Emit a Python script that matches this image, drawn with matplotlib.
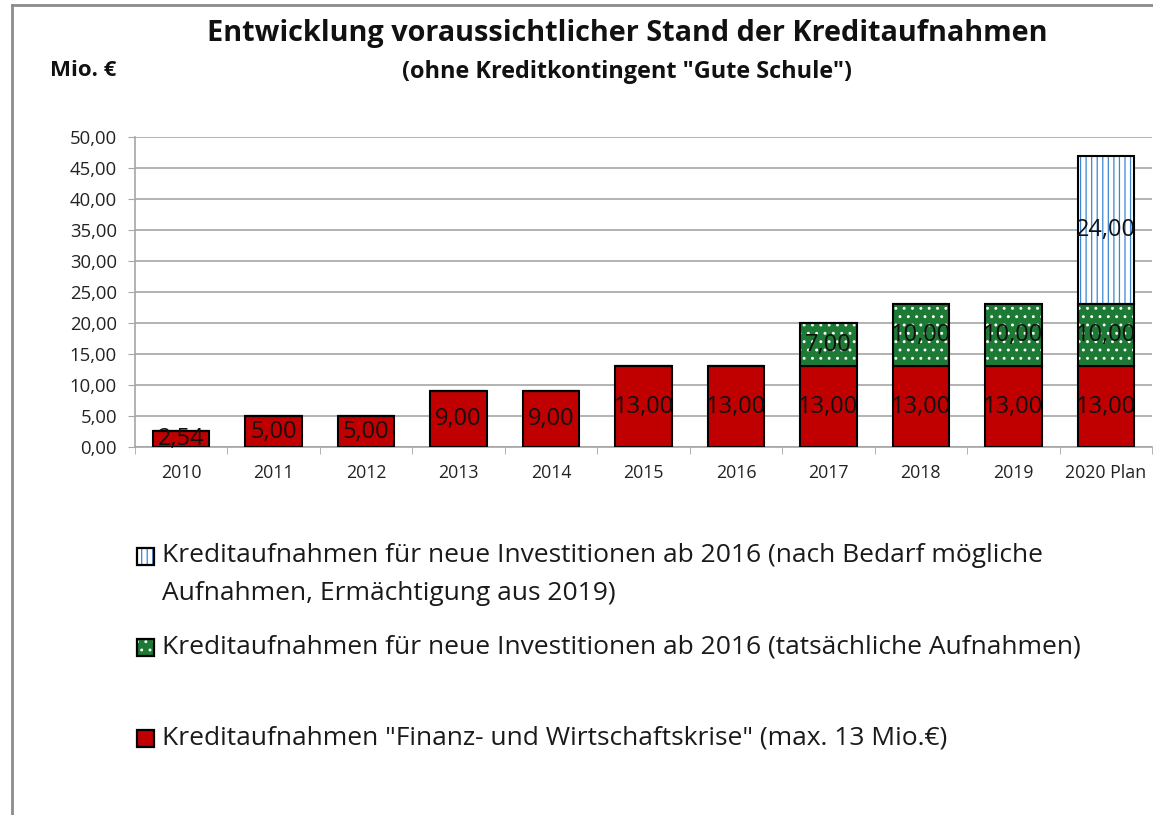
import matplotlib
matplotlib.use("Agg")
import matplotlib.pyplot as plt
from matplotlib.patches import Rectangle
from matplotlib.lines import Line2D
import numpy as np

plt.rcParams['font.family'] = ['Open Sans', 'DejaVu Sans']
plt.rcParams['hatch.linewidth'] = 0.9

years = ["2010", "2011", "2012", "2013", "2014", "2015", "2016", "2017", "2018", "2019", "2020 Plan"]
krise = [2.54, 5.00, 5.00, 9.00, 9.00, 13.00, 13.00, 13.00, 13.00, 13.00, 13.00]
tatsaechlich = [0, 0, 0, 0, 0, 0, 0, 7.00, 10.00, 10.00, 10.00]
moeglich = [0, 0, 0, 0, 0, 0, 0, 0, 0, 0, 24.00]
yticks = [0, 5, 10, 15, 20, 25, 30, 35, 40, 45, 50]

lab_moeglich = "Kreditaufnahmen für neue Investitionen ab 2016 (nach Bedarf mögliche\nAufnahmen, Ermächtigung aus 2019)"
lab_tats = "Kreditaufnahmen für neue Investitionen ab 2016 (tatsächliche Aufnahmen)"
lab_krise = "Kreditaufnahmen \"Finanz- und Wirtschaftskrise\" (max. 13 Mio.€)"

RED = "#C00000"
GREEN = "#1D7A35"
BLUE = "#3D85D0"

W, H = 1153, 815
fig = plt.figure(figsize=(W / 100, H / 100), dpi=100)

def fx(px):
    return px / W

def fy(py):
    return 1 - py / H

ax = fig.add_axes([fx(135), fy(447), fx(1152) - fx(135), fy(137) - fy(447)])

x = np.arange(len(years))
bw = 0.61
krise_a = np.array(krise)
tats_a = np.array(tatsaechlich)
moeg_a = np.array(moeglich)

b1 = ax.bar(x, krise_a, bw, color=RED, edgecolor="black", linewidth=1.5, zorder=3)
ax.bar(x, tats_a, bw, bottom=krise_a, color=GREEN, edgecolor="white", hatch="..",
       linewidth=0, zorder=3)
b2 = ax.bar(x, tats_a, bw, bottom=krise_a, fill=False, edgecolor="black", linewidth=1.5, zorder=4)
ax.bar(x, moeg_a, bw, bottom=krise_a + tats_a, color="white", edgecolor=BLUE, hatch="|||",
       linewidth=0, zorder=3)
b3 = ax.bar(x, moeg_a, bw, bottom=krise_a + tats_a, fill=False, edgecolor="black", linewidth=1.5, zorder=4)

def fmt(v):
    return ("%.2f" % v).replace(".", ",") if v > 0 else ""

for b, vals in ((b1, krise), (b2, tatsaechlich), (b3, moeglich)):
    ax.bar_label(b, labels=[fmt(v) for v in vals], label_type="center", fontsize=17,
                 color="#111111", zorder=5)

ax.set_xlim(-0.5, len(years) - 0.5)
ax.set_ylim(0, 50)
ax.set_yticks(yticks)
ax.set_yticklabels([("%.2f" % v).replace(".", ",") for v in yticks], fontsize=13.3, color="#222222")
ax.yaxis.grid(True, color="#A6A6A6", linewidth=1.2, zorder=0)
ax.set_axisbelow(True)
ax.set_xticks(x)
ax.set_xticklabels(years, fontsize=12.8, color="#222222")
ax.tick_params(axis="x", length=0, pad=12)
ax.tick_params(axis="y", length=5, color="#A6A6A6", pad=8)
ax.set_xticks(np.arange(len(years) + 1) - 0.5, minor=True)
ax.tick_params(axis="x", which="minor", length=5, color="#A6A6A6", direction="out")
for s in ["top", "right"]:
    ax.spines[s].set_visible(False)
for s in ["left", "bottom"]:
    ax.spines[s].set_color("#A6A6A6")
    ax.spines[s].set_linewidth(1.2)

fig.text(fx(627), fy(33), "Entwicklung voraussichtlicher Stand der Kreditaufnahmen",
         ha="center", va="center", fontsize=20.8, fontweight="bold", color="#111111")
fig.text(fx(627), fy(72), "(ohne Kreditkontingent \"Gute Schule\")",
         ha="center", va="center", fontsize=16.9, fontweight="bold", color="#111111")
fig.text(fx(50), fy(70), "Mio. €", ha="left", va="center", fontsize=16, fontweight="bold",
         color="#111111")

def marker(py, face, hatch=None, hatchcolor=None):
    size = 17
    r = Rectangle((fx(137), fy(py + size / 2)), fx(size), fy(0) - fy(size),
                  transform=fig.transFigure, facecolor=face,
                  edgecolor=hatchcolor if hatch else "none", hatch=hatch, linewidth=0)
    fig.add_artist(r)
    r2 = Rectangle((fx(137), fy(py + size / 2)), fx(size), fy(0) - fy(size),
                   transform=fig.transFigure, fill=False, edgecolor="black", linewidth=1.6)
    fig.add_artist(r2)

LFS = 19
TC = "#1a1a1a"
marker(556, "white", "|||", BLUE)
fig.text(fx(162), fy(556), lab_moeglich.split("\n")[0], ha="left", va="center", fontsize=LFS, color=TC)
fig.text(fx(162), fy(594), lab_moeglich.split("\n")[1], ha="left", va="center", fontsize=LFS, color=TC)
marker(647, GREEN, "..", "white")
fig.text(fx(162), fy(647), lab_tats, ha="left", va="center", fontsize=LFS, color=TC)
marker(738, RED)
fig.text(fx(162), fy(738), lab_krise, ha="left", va="center", fontsize=LFS, color=TC)

fig.add_artist(Line2D([fx(12), fx(12)], [fy(5), 0], transform=fig.transFigure, color="#8C8C8C", linewidth=2))
fig.add_artist(Line2D([fx(12), 1], [fy(5), fy(5)], transform=fig.transFigure, color="#8C8C8C", linewidth=2))

fig.savefig("out.png", dpi=100)
